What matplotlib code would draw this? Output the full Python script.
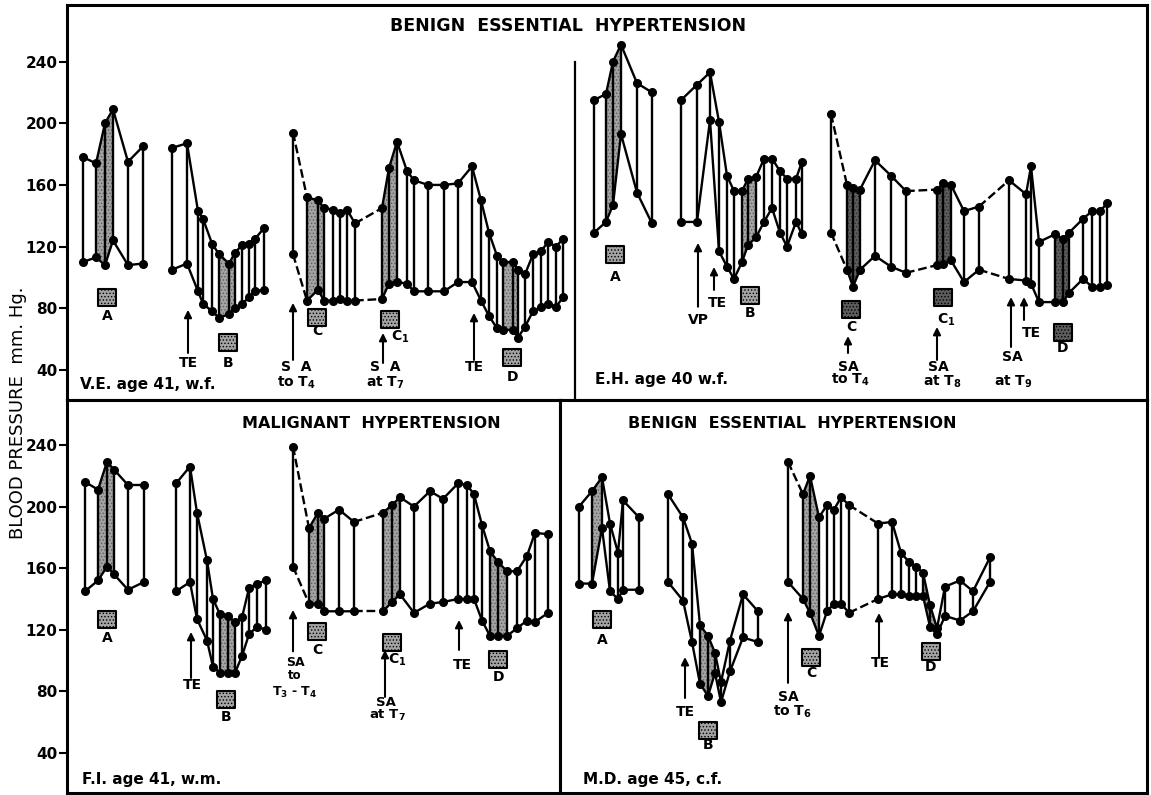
import matplotlib
matplotlib.use("Agg")
import matplotlib.pyplot as plt

plt.rcParams['font.family'] = ['DejaVu Sans']
plt.rcParams['mathtext.default'] = 'bf'
plt.rcParams['hatch.linewidth'] = 0.6

# ---------------- DATA (time in arbitrary units, pressure in mm Hg) ----------------
# V.E. age 41, w.f.  (Benign essential hypertension)
VE_G1_T = [1.6, 2.9, 3.8, 4.6, 6.1, 7.6]
VE_G1_SYS = [178, 174, 200, 209, 175, 185]
VE_G1_DIA = [110, 113, 108, 124, 108, 109]
VE_G2_T = [10.5, 12.0, 13.1, 13.6, 14.5, 15.2, 16.2, 16.8, 17.5, 18.2, 18.8, 19.7]
VE_G2_SYS = [184, 187, 143, 138, 122, 115, 109, 116, 121, 122, 125, 132]
VE_G2_DIA = [105, 109, 91, 83, 78, 74, 76, 80, 83, 87, 91, 92]
VE_G3S_T = [22.6]
VE_G3S_SYS = [194]
VE_G3S_DIA = [115]
VE_G3_T = [24.0, 25.1, 25.7, 26.6, 27.3, 28.0, 28.8]
VE_G3_SYS = [152, 150, 145, 144, 142, 144, 135]
VE_G3_DIA = [85, 92, 85, 85, 86, 85, 85]
VE_G4_T = [31.5, 32.2, 33.0, 34.0, 34.7, 36.1, 37.7, 39.1, 40.5, 41.4, 42.2, 43.0,
           43.6, 44.6, 45.1, 45.8, 46.6, 47.4, 48.1, 48.9, 49.6]
VE_G4_SYS = [145, 171, 188, 169, 163, 160, 160, 161, 172, 150, 129, 114,
             110, 110, 105, 102, 115, 117, 123, 120, 125]
VE_G4_DIA = [86, 96, 97, 96, 91, 91, 91, 97, 97, 85, 75, 67,
             66, 66, 61, 68, 78, 81, 83, 81, 87]

# E.H. age 40 w.f.  (Benign essential hypertension)
EH_G1_T = [52.7, 53.9, 54.6, 55.4, 57.0, 58.5]
EH_G1_SYS = [215, 219, 240, 251, 226, 220]
EH_G1_DIA = [129, 136, 147, 193, 155, 135]
EH_G2_T = [61.4, 63.0, 64.3, 65.2, 66.0, 66.7, 67.5, 68.1, 68.9, 69.7, 70.5, 71.3, 72.0, 72.9, 73.5]
EH_G2_SYS = [215, 225, 233, 201, 166, 156, 156, 164, 165, 177, 177, 169, 164, 164, 175]
EH_G2_DIA = [136, 136, 202, 117, 107, 99, 110, 121, 126, 136, 145, 129, 120, 136, 128]
EH_G3S_T = [76.4]
EH_G3S_SYS = [206]
EH_G3S_DIA = [129]
EH_G3_T = [78.0, 78.6, 79.3, 80.8, 82.4, 83.9]
EH_G3_SYS = [160, 158, 157, 176, 166, 156]
EH_G3_DIA = [105, 94, 105, 114, 107, 103]
EH_G4_T = [87.0, 87.6, 88.4, 89.7, 91.2]
EH_G4_SYS = [157, 161, 160, 143, 146]
EH_G4_DIA = [108, 109, 111, 97, 105]
EH_G5_T = [94.2, 95.9, 96.4, 97.2, 98.8, 99.6, 100.2, 101.6, 102.5, 103.3, 104.0]
EH_G5_SYS = [163, 154, 172, 123, 128, 125, 129, 138, 143, 143, 148]
EH_G5_DIA = [99, 98, 96, 84, 84, 84, 90, 99, 94, 94, 95]

# F.I. age 41, w.m.  (Malignant hypertension)
FI_G1_T = [1.8, 3.1, 4.0, 4.7, 6.1, 7.7]
FI_G1_SYS = [216, 211, 229, 224, 214, 214]
FI_G1_DIA = [145, 152, 161, 156, 146, 151]
FI_G2_T = [10.9, 12.3, 13.0, 14.0, 14.6, 15.3, 16.1, 16.8, 17.5, 18.2, 19.0, 19.9]
FI_G2_SYS = [215, 226, 196, 165, 140, 130, 129, 125, 128, 147, 150, 152]
FI_G2_DIA = [145, 151, 127, 113, 96, 92, 92, 92, 103, 117, 122, 120]
FI_G3S_T = [22.6]
FI_G3S_SYS = [239]
FI_G3S_DIA = [161]
FI_G3_T = [24.2, 25.1, 25.7, 27.2, 28.7]
FI_G3_SYS = [186, 196, 192, 198, 190]
FI_G3_DIA = [137, 137, 132, 132, 132]
FI_G4_T = [31.6, 32.5, 33.3, 34.7, 36.3, 37.6, 39.1, 40.0, 40.7, 41.5, 42.3, 43.1,
           44.0, 45.0, 46.0, 46.8, 48.1]
FI_G4_SYS = [196, 201, 206, 200, 210, 205, 215, 214, 208, 188, 171, 164,
             158, 158, 168, 183, 182]
FI_G4_DIA = [132, 138, 143, 131, 137, 138, 140, 140, 140, 126, 116, 116,
             116, 121, 126, 125, 131]

# M.D. age 45, c.f.  (Benign essential hypertension)
MD_G1_T = [1.9, 3.2, 4.2, 5.0, 5.8, 6.3, 7.9]
MD_G1_SYS = [200, 210, 219, 189, 170, 204, 193]
MD_G1_DIA = [150, 150, 186, 145, 140, 146, 146]
MD_G2_T = [10.8, 12.3, 13.2, 14.0, 14.8, 15.5, 16.1, 17.0, 18.3, 19.8]
MD_G2_SYS = [208, 193, 176, 123, 116, 105, 86, 113, 143, 132]
MD_G2_DIA = [151, 139, 112, 85, 77, 92, 73, 93, 115, 112]
MD_G3S_T = [22.8]
MD_G3S_SYS = [229]
MD_G3S_DIA = [151]
MD_G3_T = [24.3, 25.0, 25.9, 26.7, 27.4, 28.1, 28.9]
MD_G3_SYS = [208, 220, 193, 201, 198, 206, 201]
MD_G3_DIA = [140, 131, 116, 132, 137, 137, 131]
MD_G4_T = [31.8, 33.2, 34.1, 34.9, 35.6, 36.3, 37.0, 37.7, 38.5, 40.0, 41.3, 43.0]
MD_G4_SYS = [189, 190, 170, 164, 161, 157, 136, 121, 148, 152, 145, 167]
MD_G4_DIA = [140, 143, 143, 142, 142, 142, 122, 117, 129, 126, 132, 151]

Y_TICKS = [40, 80, 120, 160, 200, 240]

# ---------------- FIGURE ----------------
W, H = 1151, 795
fig = plt.figure(figsize=(W / 100, H / 100), dpi=100)


def px_axes(x0, y0, x1, y1):
    return fig.add_axes([x0 / W, 1 - y1 / H, (x1 - x0) / W, (y1 - y0) / H])


ax_top = px_axes(67, 5, 1147, 400)
ax_bl = px_axes(67, 400, 560, 793)
ax_br = px_axes(560, 400, 1147, 793)

ax_top.set_xlim(0, 108.0)
ax_top.set_ylim(20.5, 276.7)
ax_bl.set_xlim(0, 49.3)
ax_bl.set_ylim(14.0, 269.2)
ax_br.set_xlim(0, 58.7)
ax_br.set_ylim(14.0, 269.2)

for ax in (ax_top, ax_bl, ax_br):
    for sp in ax.spines.values():
        sp.set_linewidth(2.2)
        sp.set_color('k')
    ax.set_xticks([])
    ax.set_yticks([])

for ax in (ax_top, ax_bl):
    ax.set_yticks(Y_TICKS)
    ax.set_yticklabels([str(v) for v in Y_TICKS], fontsize=11, fontweight='bold')
    ax.tick_params(axis='y', direction='out', length=6, width=1.5, pad=1)

LIGHT = dict(facecolor='#a3a3a3', edgecolor='#5e5e5e')
DARK = dict(facecolor='#5c5c5c', edgecolor='#2c2c2c')


def group(ax, t, s, d, shade=None, dark=False):
    if shade is not None:
        i, j = shade
        sty = DARK if dark else LIGHT
        ax.fill_between(t[i:j + 1], d[i:j + 1], s[i:j + 1], hatch='.....',
                        linewidth=0, zorder=1, **sty)
    ax.vlines(t, d, s, colors='k', linewidth=1.7, zorder=2)
    ax.plot(t, s, '-o', color='k', lw=1.7, ms=5.5, zorder=3)
    ax.plot(t, d, '-o', color='k', lw=1.7, ms=5.5, zorder=3)


def link(ax, ta, sa, da, tb, sb, db, top_ls='--', bot_ls='--'):
    ax.plot([ta[-1], tb[0]], [sa[-1], sb[0]], color='k', lw=1.7, ls=top_ls, zorder=2)
    ax.plot([ta[-1], tb[0]], [da[-1], db[0]], color='k', lw=1.7, ls=bot_ls, zorder=2)


def square(ax, x, y, lab, ly, lx=None, dark=False):
    sty = DARK if dark else LIGHT
    ax.scatter([x], [y], marker='s', s=150, facecolor=sty['facecolor'], edgecolor='k',
               linewidths=1.5, hatch='.....', zorder=4)
    ax.text(x if lx is None else lx, ly, lab, ha='center', va='center',
            fontsize=10, fontweight='bold')


def arrow(ax, x, tail, head):
    ax.annotate('', xy=(x, head), xytext=(x, tail),
                arrowprops=dict(arrowstyle='-|>', color='k', lw=1.5,
                                mutation_scale=11, shrinkA=0, shrinkB=0))


def txt(ax, x, y, s, size=10, ha='center'):
    ax.text(x, y, s, ha=ha, va='center', fontsize=size, fontweight='bold')


# ---- V.E. ----
a = ax_top
group(a, VE_G1_T, VE_G1_SYS, VE_G1_DIA, shade=(1, 3))
group(a, VE_G2_T, VE_G2_SYS, VE_G2_DIA, shade=(5, 7))
group(a, VE_G3S_T, VE_G3S_SYS, VE_G3S_DIA)
group(a, VE_G3_T, VE_G3_SYS, VE_G3_DIA, shade=(0, 2))
group(a, VE_G4_T, VE_G4_SYS, VE_G4_DIA, shade=(0, 2))
a.fill_between(VE_G4_T[12:15], VE_G4_DIA[12:15], VE_G4_SYS[12:15], hatch='.....',
               linewidth=0, zorder=1, **LIGHT)
link(a, VE_G3S_T, VE_G3S_SYS, VE_G3S_DIA, VE_G3_T, VE_G3_SYS, VE_G3_DIA)
link(a, VE_G3_T, VE_G3_SYS, VE_G3_DIA, VE_G4_T, VE_G4_SYS, VE_G4_DIA)
square(a, 4.0, 87, 'A', 75)
arrow(a, 12.1, 51, 79); txt(a, 12.1, 44.5, 'TE')
square(a, 16.1, 57.5, 'B', 44.5)
arrow(a, 22.6, 46.5, 83.5); txt(a, 22.9, 42, 'S  A'); txt(a, 22.9, 31.6, 'to T$_4$')
square(a, 25.0, 73.7, 'C', 65)
square(a, 32.3, 72.4, 'C$_1$', 61.4, lx=33.3)
arrow(a, 31.6, 44.5, 64); txt(a, 31.8, 42, 'S  A'); txt(a, 31.8, 31.6, 'at T$_7$')
arrow(a, 40.7, 46.5, 77); txt(a, 40.7, 42, 'TE')
square(a, 44.5, 47.8, 'D', 35.5)
txt(a, 1.3, 30.3, 'V.E. age 41, w.f.', size=11, ha='left')

# ---- E.H. ----
a.axvline(50.8, ymin=0, ymax=0.856, color='k', lw=1.6)
group(a, EH_G1_T, EH_G1_SYS, EH_G1_DIA, shade=(1, 3))
group(a, EH_G2_T, EH_G2_SYS, EH_G2_DIA, shade=(6, 8))
group(a, EH_G3S_T, EH_G3S_SYS, EH_G3S_DIA)
group(a, EH_G3_T, EH_G3_SYS, EH_G3_DIA, shade=(0, 2), dark=True)
group(a, EH_G4_T, EH_G4_SYS, EH_G4_DIA, shade=(0, 2), dark=True)
group(a, EH_G5_T, EH_G5_SYS, EH_G5_DIA, shade=(4, 6), dark=True)
link(a, EH_G3S_T, EH_G3S_SYS, EH_G3S_DIA, EH_G3_T, EH_G3_SYS, EH_G3_DIA)
link(a, EH_G3_T, EH_G3_SYS, EH_G3_DIA, EH_G4_T, EH_G4_SYS, EH_G4_DIA)
link(a, EH_G4_T, EH_G4_SYS, EH_G4_DIA, EH_G5_T, EH_G5_SYS, EH_G5_DIA)
square(a, 54.8, 114.6, 'A', 100.3)
arrow(a, 63.1, 81, 122.4); txt(a, 63.1, 72.4, 'VP')
arrow(a, 64.7, 91.9, 106.8); txt(a, 65.0, 83.5, 'TE')
square(a, 68.3, 88.6, 'B', 77)
square(a, 78.4, 78.9, 'C', 67.9, dark=True)
arrow(a, 78.1, 51, 62); txt(a, 78.1, 42, 'SA'); txt(a, 78.3, 33.5, 'to T$_4$')
square(a, 87.6, 86.7, 'C$_1$', 72.4, lx=87.9, dark=True)
arrow(a, 87.0, 46.5, 67.9); txt(a, 87.1, 42, 'SA'); txt(a, 87.5, 32.2, 'at T$_8$')
arrow(a, 94.4, 54.9, 87.3); txt(a, 94.5, 48.4, 'SA'); txt(a, 94.6, 32.2, 'at T$_9$')
arrow(a, 95.7, 72.4, 87.3); txt(a, 96.4, 64, 'TE')
square(a, 99.6, 64, 'D', 54.3, dark=True)
txt(a, 52.8, 33.5, 'E.H. age 40 w.f.', size=11, ha='left')

# ---- F.I. ----
a = ax_bl
group(a, FI_G1_T, FI_G1_SYS, FI_G1_DIA, shade=(1, 3))
group(a, FI_G2_T, FI_G2_SYS, FI_G2_DIA, shade=(5, 7))
group(a, FI_G3S_T, FI_G3S_SYS, FI_G3S_DIA)
group(a, FI_G3_T, FI_G3_SYS, FI_G3_DIA, shade=(0, 2))
group(a, FI_G4_T, FI_G4_SYS, FI_G4_DIA, shade=(0, 2))
a.fill_between(FI_G4_T[10:13], FI_G4_DIA[10:13], FI_G4_SYS[10:13], hatch='.....',
               linewidth=0, zorder=1, **LIGHT)
link(a, FI_G3S_T, FI_G3S_SYS, FI_G3S_DIA, FI_G3_T, FI_G3_SYS, FI_G3_DIA)
link(a, FI_G3_T, FI_G3_SYS, FI_G3_DIA, FI_G4_T, FI_G4_SYS, FI_G4_DIA)
square(a, 4.0, 126.4, 'A', 114.7)
arrow(a, 12.4, 88.7, 118.6); txt(a, 12.5, 84.2, 'TE')
square(a, 15.9, 74.4, 'B', 63.4)
arrow(a, 22.6, 106, 132.9); txt(a, 22.8, 98.5, 'SA', size=9)
txt(a, 22.8, 90.0, 'to', size=8.5); txt(a, 22.8, 79.5, 'T$_3$ - T$_4$', size=9)
square(a, 25.0, 118.6, 'C', 106.9)
square(a, 32.5, 112, 'C$_1$', 100.4, lx=33.0)
arrow(a, 31.8, 76.4, 106.9); txt(a, 31.9, 72.5, 'SA', size=9.5); txt(a, 32.0, 64.2, 'at T$_7$', size=9.5)
arrow(a, 39.2, 106.9, 126.4); txt(a, 39.5, 97.1, 'TE')
square(a, 43.1, 101, 'D', 89.4)
txt(a, 1.5, 22.5, 'F.I. age 41, w.m.', size=11, ha='left')

# ---- M.D. ----
a = ax_br
group(a, MD_G1_T, MD_G1_SYS, MD_G1_DIA, shade=(1, 2))
group(a, MD_G2_T, MD_G2_SYS, MD_G2_DIA, shade=(3, 5))
group(a, MD_G3S_T, MD_G3S_SYS, MD_G3S_DIA)
group(a, MD_G3_T, MD_G3_SYS, MD_G3_DIA, shade=(0, 2))
group(a, MD_G4_T, MD_G4_SYS, MD_G4_DIA, shade=(5, 7))
link(a, MD_G3S_T, MD_G3S_SYS, MD_G3S_DIA, MD_G3_T, MD_G3_SYS, MD_G3_DIA, bot_ls='-')
link(a, MD_G3_T, MD_G3_SYS, MD_G3_DIA, MD_G4_T, MD_G4_SYS, MD_G4_DIA)
square(a, 4.2, 126.4, 'A', 113.4)
arrow(a, 12.5, 75.7, 102.3); txt(a, 12.5, 66.6, 'TE')
square(a, 14.8, 54.9, 'B', 45.2)
arrow(a, 22.8, 85.5, 131.6); txt(a, 22.8, 76.4, 'SA'); txt(a, 23.2, 66.6, 'to T$_6$')
square(a, 25.1, 102.3, 'C', 92)
arrow(a, 31.9, 102.3, 130.9); txt(a, 32.0, 98.4, 'TE')
square(a, 37.1, 105.6, 'D', 95.8)
txt(a, 2.3, 22.5, 'M.D. age 45, c.f.', size=11, ha='left')

# ---- titles & axis label ----
fig.text(568 / W, 1 - 26 / H, 'BENIGN  ESSENTIAL  HYPERTENSION', ha='center', va='center',
         fontsize=12.5, fontweight='bold')
fig.text(371 / W, 1 - 423 / H, 'MALIGNANT  HYPERTENSION', ha='center', va='center',
         fontsize=11.5, fontweight='bold')
fig.text(792 / W, 1 - 423 / H, 'BENIGN  ESSENTIAL  HYPERTENSION', ha='center', va='center',
         fontsize=11.5, fontweight='bold')
fig.text(18 / W, 1 - 413 / H, 'BLOOD PRESSURE  mm. Hg.', rotation=90, ha='center',
         va='center', fontsize=13)

fig.savefig('out.png', dpi=100)
